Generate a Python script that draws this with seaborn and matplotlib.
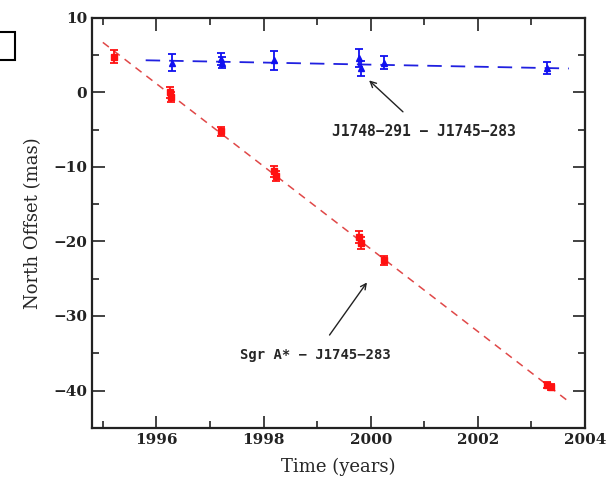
import matplotlib
matplotlib.use('Agg')
import matplotlib.pyplot as plt
import seaborn as sns
from matplotlib.patches import Rectangle
from matplotlib.ticker import MultipleLocator

# Sgr A* - J1745-283 north offsets (mas)
t_sgr = [1995.20, 1996.25, 1996.28, 1997.20, 1998.20, 1998.23, 1999.78, 1999.81, 2000.25, 2003.30, 2003.36]
n_sgr = [4.8, 0.0, -0.6, -5.2, -10.6, -11.2, -19.4, -20.2, -22.5, -39.2, -39.5]
e_sgr = [0.9, 0.7, 0.7, 0.6, 0.7, 0.7, 0.8, 0.8, 0.6, 0.4, 0.4]

# J1748-291 - J1745-283 north offsets (mas)
t_cal = [1996.30, 1997.20, 1997.23, 1998.20, 1999.78, 1999.81, 2000.25, 2003.30]
n_cal = [4.0, 4.5, 4.0, 4.3, 4.6, 3.2, 4.0, 3.3]
e_cal = [1.1, 0.8, 0.8, 1.3, 1.2, 1.0, 0.9, 0.8]

# fitted motions
fit_t_sgr = [1995.0, 2003.7]
fit_n_sgr = [6.7, -41.5]
fit_t_cal = [1995.8, 2003.7]
fit_n_cal = [4.3, 3.2]

sns.set_theme(style="ticks")
plt.rcParams['font.family'] = ['DejaVu Serif']

fig = plt.figure(figsize=(6.1, 4.94), dpi=100)
ax = fig.add_axes([0.151, 0.134, 0.808, 0.830])

sns.lineplot(x=fit_t_sgr, y=fit_n_sgr, ax=ax, color='#e04848', lw=1.1,
             linestyle=(0, (5, 4)))
sns.lineplot(x=fit_t_cal, y=fit_n_cal, ax=ax, color='#2020e0', lw=1.3,
             linestyle=(0, (8, 5)))

ax.errorbar(t_sgr, n_sgr, yerr=e_sgr, fmt='s', ms=4, color='#ff1010',
            ecolor='#ff1010', elinewidth=1.3, capsize=3, capthick=1.3)
ax.errorbar(t_cal, n_cal, yerr=e_cal, fmt='^', ms=4, color='#1010f0',
            ecolor='#1010f0', elinewidth=1.3, capsize=3, capthick=1.3)

ax.set_xlim(1994.8, 2004)
ax.set_ylim(-45, 10)
ax.xaxis.set_major_locator(MultipleLocator(2))
ax.xaxis.set_minor_locator(MultipleLocator(1))
ax.yaxis.set_major_locator(MultipleLocator(10))
ax.yaxis.set_minor_locator(MultipleLocator(5))
ax.tick_params(which='both', direction='in', top=True, right=True,
               colors='#222222', labelsize=11, width=1.2)
ax.tick_params(which='major', length=9)
ax.tick_params(which='minor', length=5)
for s in ax.spines.values():
    s.set_linewidth(1.6)
    s.set_color('#222222')
for lab in ax.get_xticklabels() + ax.get_yticklabels():
    lab.set_fontweight('bold')

ax.set_xlabel('Time (years)', fontsize=13, labelpad=8)
ax.set_ylabel('North Offset (mas)', fontsize=13, labelpad=8)

ax.annotate('J1748\u2212291 \u2212 J1745\u2212283', xy=(1999.97, 1.6),
            xytext=(2000.99, -5.2), ha='center', va='center',
            fontsize=10.5, fontweight='bold', family='DejaVu Sans Mono',
            arrowprops=dict(arrowstyle='->', color='#222222', lw=1.0,
                            shrinkA=9, shrinkB=0))
ax.annotate('Sgr A* \u2212 J1745\u2212283', xy=(1999.93, -25.5),
            xytext=(1998.96, -35.3), ha='center', va='center',
            fontsize=10, fontweight='bold', family='DejaVu Sans Mono',
            arrowprops=dict(arrowstyle='->', color='#222222', lw=1.0,
                            shrinkA=9, shrinkB=0))

fig.patches.append(Rectangle((-0.01, 0.878), 0.035, 0.057, transform=fig.transFigure,
                             fill=False, edgecolor='black', lw=1.5))

fig.savefig('out.png', dpi=100)
